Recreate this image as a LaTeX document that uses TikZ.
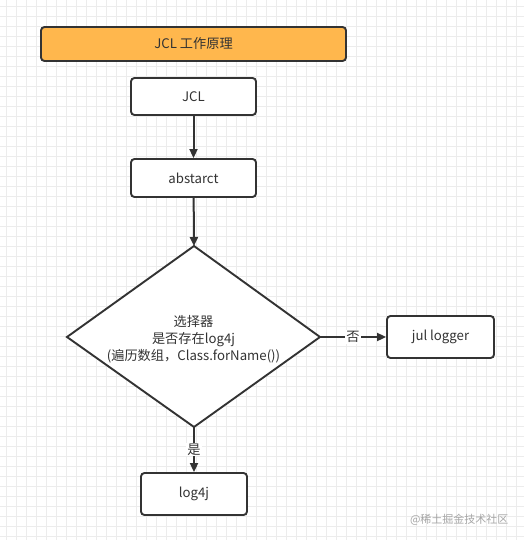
\documentclass[tikz,border=0pt]{standalone}
\usepackage{fontspec}
\setmainfont{Noto Sans CJK SC}
\usetikzlibrary{shapes.geometric,arrows.meta}
\definecolor{orangefill}{HTML}{FFB74D}
\definecolor{linec}{HTML}{333333}
\definecolor{gridc}{HTML}{ECECEC}
\tikzset{
  box/.style={draw=linec, line width=1.9pt, rounded corners=3.5pt, fill=white, minimum width=125pt, minimum height=37pt, inner sep=0pt, font=\fontsize{13.2}{15}\selectfont, text=linec},
  dtxt/.style={inner sep=0pt, font=\fontsize{13.2}{17}\selectfont, text=linec, align=center},
  conn/.style={draw=linec, line width=2pt, -{Triangle[length=9pt,width=8pt]}},
  lbl/.style={fill=white, inner sep=1pt, font=\fontsize{13.2}{15}\selectfont, text=linec},
}
\begin{document}
\begin{tikzpicture}[x=1pt,y=-1pt]
\useasboundingbox (0,0) rectangle (524,540);
\fill[white] (0,0) rectangle (524,540);
\foreach \i in {0,...,52} { \draw[gridc, line width=0.6pt] (6+\i*10,0) -- (6+\i*10,540); }
\foreach \j in {0,...,53} { \draw[gridc, line width=0.6pt] (0,6+\j*10) -- (524,6+\j*10); }
\node[box, fill=orangefill, minimum width=305pt, minimum height=34pt] (title) at (193.5,44) {JCL 工作原理};
\node[box] (jcl) at (193.5,96.5) {JCL};
\node[box, minimum height=38pt] (abs) at (193.5,178) {abstarct};
\draw[draw=linec, line width=1.9pt, fill=white] (194,246) coordinate (dtop) -- (320,337) coordinate (dright) -- (194,427) coordinate (dbot) -- (67,337) coordinate (dleft) -- cycle;
\node[dtxt] (dtext) at (193.5,339) {选择器\\是否存在log4j\\(遍历数组，Class.forName())};
\node[box, minimum width=107pt, minimum height=42pt] (jul) at (440.5,337) {jul logger};
\node[box, minimum width=106pt, minimum height=42pt] (log) at (194,494) {log4j};
\draw[conn] (jcl) -- (abs);
\draw[conn] (abs) -- (dtop);
\draw[conn] (dright) -- node[lbl, pos=0.5] {否} (jul);
\draw[conn] (dbot) -- node[lbl, pos=0.5] {是} (log);
\node[font=\fontsize{11}{12}\selectfont, text=gray!70, anchor=east] (wm) at (512,520) {@稀土掘金技术社区};
\end{tikzpicture}
\end{document}
